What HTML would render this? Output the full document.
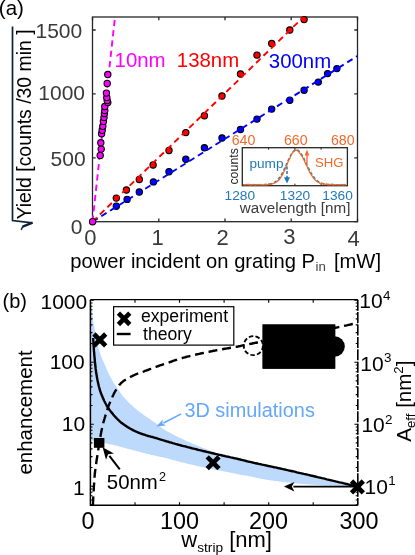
<!DOCTYPE html>
<html><head><meta charset="utf-8"><title>figure</title>
<style>html,body{margin:0;padding:0;background:#fff;}body{width:415px;height:555px;overflow:hidden;position:relative;font-family:"Liberation Sans",sans-serif;}svg text,svg tspan{font-family:"Liberation Sans",sans-serif;}</style>
</head><body>
<svg width="415" height="555" viewBox="0 0 415 555" style="position:absolute;left:0;top:0;will-change:transform">
<rect x="0" y="0" width="415" height="555" fill="#fff"/>
<g stroke="#262626" stroke-width="1.3" fill="none">
<rect x="92.5" y="17.0" width="265.0" height="204.7"/>
<path d="M92.5,221.7 v-3.2 M92.5,17.0 v3.2"/>
<path d="M158.8,221.7 v-3.2 M158.8,17.0 v3.2"/>
<path d="M225.0,221.7 v-3.2 M225.0,17.0 v3.2"/>
<path d="M291.2,221.7 v-3.2 M291.2,17.0 v3.2"/>
<path d="M357.5,221.7 v-3.2 M357.5,17.0 v3.2"/>
<path d="M92.5,221.7 h3.2 M357.5,221.7 h-3.2"/>
<path d="M92.5,157.8 h3.2 M357.5,157.8 h-3.2"/>
<path d="M92.5,93.9 h3.2 M357.5,93.9 h-3.2"/>
<path d="M92.5,30.0 h3.2 M357.5,30.0 h-3.2"/>
</g>
<path d="M92.5,221.7 L115,17" stroke="#ff00ff" fill="none" stroke-width="1.9" stroke-dasharray="6.2 4.16"/>
<g fill="#ff00ff" stroke="#000" stroke-width="1.1">
<circle cx="100.2" cy="155.4" r="3.15"/>
<circle cx="101.2" cy="149.1" r="3.15"/>
<circle cx="100.8" cy="142.8" r="3.15"/>
<circle cx="101.6" cy="133.7" r="3.15"/>
<circle cx="102.2" cy="130.3" r="3.15"/>
<circle cx="102.8" cy="126.3" r="3.15"/>
<circle cx="103.4" cy="121.4" r="3.15"/>
<circle cx="104.0" cy="117.4" r="3.15"/>
<circle cx="104.4" cy="113.5" r="3.15"/>
<circle cx="104.8" cy="110.5" r="3.15"/>
<circle cx="104.8" cy="106.5" r="3.15"/>
<circle cx="107.8" cy="102.6" r="3.15"/>
<circle cx="107.2" cy="100.6" r="3.15"/>
<circle cx="106.8" cy="97.6" r="3.15"/>
<circle cx="106.4" cy="93.1" r="3.15"/>
<circle cx="107.2" cy="83.4" r="3.15"/>
<circle cx="107.8" cy="74.5" r="3.15"/>
</g>
<g fill="#0000ff" stroke="#000" stroke-width="1.1">
<circle cx="116.3" cy="206.2" r="3.15"/>
<circle cx="127.1" cy="199.4" r="3.15"/>
<circle cx="139.3" cy="192.0" r="3.15"/>
<circle cx="153.4" cy="181.9" r="3.15"/>
<circle cx="169.0" cy="171.7" r="3.15"/>
<circle cx="185.8" cy="159.3" r="3.15"/>
<circle cx="204.4" cy="147.8" r="3.15"/>
<circle cx="222.0" cy="138.0" r="3.15"/>
<circle cx="240.5" cy="129.5" r="3.15"/>
<circle cx="257.0" cy="119.1" r="3.15"/>
<circle cx="271.7" cy="109.1" r="3.15"/>
<circle cx="289.8" cy="100.2" r="3.15"/>
<circle cx="304.1" cy="90.2" r="3.15"/>
<circle cx="318.3" cy="82.1" r="3.15"/>
<circle cx="327.6" cy="73.6" r="3.15"/>
<circle cx="336.9" cy="68.6" r="3.15"/>
</g>
<path d="M92.5,221.7 L357.5,56" stroke="#0000ff" fill="none" stroke-width="1.9" stroke-dasharray="6.2 4.16"/>
<g fill="#ff0000" stroke="#000" stroke-width="1.1">
<circle cx="116.3" cy="198.1" r="3.15"/>
<circle cx="126.4" cy="190.0" r="3.15"/>
<circle cx="139.3" cy="179.5" r="3.15"/>
<circle cx="153.1" cy="165.0" r="3.15"/>
<circle cx="169.0" cy="150.5" r="3.15"/>
<circle cx="185.8" cy="132.6" r="3.15"/>
<circle cx="204.4" cy="115.7" r="3.15"/>
<circle cx="222.0" cy="96.0" r="3.15"/>
<circle cx="240.5" cy="74.0" r="3.15"/>
<circle cx="257.0" cy="55.1" r="3.15"/>
<circle cx="271.7" cy="43.5" r="3.15"/>
<circle cx="289.8" cy="30.0" r="3.15"/>
<circle cx="304.1" cy="19.6" r="3.15"/>
</g>
<path d="M92.5,221.7 L303.5,17" stroke="#ff0000" fill="none" stroke-width="1.9" stroke-dasharray="6.2 4.16"/>
<circle cx="92.6" cy="221.7" r="3.15" fill="#ff00ff" stroke="#000" stroke-width="1.1"/>
<g font-size="20.4px">
<text x="114.6" y="67.1" fill="#ff00ff">10nm</text>
<text x="176.8" y="67.1" fill="#ff0000">138nm</text>
<text x="268.8" y="67.6" fill="#0000ff">300nm</text>
</g>
<g font-size="21px" fill="#3a3a3a">
<text x="82.2" y="38.2" text-anchor="end">1500</text>
<text x="85.0" y="100.1" text-anchor="end">1000</text>
<text x="85.6" y="166.2" text-anchor="end">500</text>
<text x="76.5" y="234.2" text-anchor="middle">0</text>
<text x="90.4" y="244.5" font-size="22px" text-anchor="middle">0</text>
<text x="157.6" y="244.5" font-size="22px" text-anchor="middle">1</text>
<text x="222.6" y="244.5" font-size="22px" text-anchor="middle">2</text>
<text x="289.4" y="244.1" font-size="22px" text-anchor="middle">3</text>
<text x="353.6" y="246.2" font-size="22px" text-anchor="middle">4</text>
</g>
<text x="-1.2" y="15" font-size="20.5px" fill="#000">(a)</text>
<text x="70.3" y="268.2" font-size="20.2px" fill="#000">power incident on grating P<tspan font-size="13.3px" dy="3.2" dx="0.6" fill="#444">in</tspan><tspan dy="-3.2" dx="2.4"> [mW]</tspan></text>
<text transform="translate(31,219.5) rotate(-90)" font-size="19.4px" fill="#000">Yield [counts /30 min ]</text>
<path d="M12.5,26.6 L12.5,220.5 L32.3,222.8" fill="none" stroke="#0c2238" stroke-width="1.7" stroke-linejoin="miter"/>
<path d="M32.6,222.7 L22.6,226.6" fill="none" stroke="#0c2238" stroke-width="2.4"/>
<path d="M22.8,226.3 L21.2,229.9" fill="none" stroke="#0c2238" stroke-width="1.4"/>
<rect x="242.3" y="147.7" width="105.1" height="38.0" fill="#fff" stroke="#262626" stroke-width="1.3"/>
<g stroke="#262626" stroke-width="1">
<path d="M268.6,147.7 v2 M268.6,185.7 v-2"/>
<path d="M294.9,147.7 v2 M294.9,185.7 v-2"/>
<path d="M321.1,147.7 v2 M321.1,185.7 v-2"/>
</g>
<path d="M243.1,184.7 L243.8,184.7 L244.5,184.7 L245.2,184.7 L245.9,184.7 L246.6,184.7 L247.3,184.7 L248.0,184.7 L248.7,184.7 L249.4,184.7 L250.1,184.7 L250.8,184.7 L251.5,184.7 L252.2,184.7 L252.9,184.7 L253.6,184.7 L254.3,184.7 L255.0,184.7 L255.7,184.7 L256.4,184.7 L257.1,184.7 L257.8,184.7 L258.5,184.7 L259.2,184.7 L259.9,184.7 L260.6,184.7 L261.3,184.7 L262.0,184.7 L262.7,184.6 L263.4,184.6 L264.1,184.6 L264.8,184.6 L265.5,184.5 L266.2,184.5 L266.9,184.4 L267.6,184.4 L268.3,184.3 L269.0,184.2 L269.7,184.0 L270.4,183.9 L271.1,183.7 L271.8,183.5 L272.5,183.2 L273.2,183.0 L273.9,182.6 L274.6,182.2 L275.3,181.8 L276.0,181.2 L276.7,180.6 L277.4,180.0 L278.1,179.2 L278.8,178.4 L279.5,177.5 L280.2,176.5 L280.9,175.4 L281.6,174.3 L282.3,173.0 L283.0,171.7 L283.7,170.3 L284.4,168.8 L285.1,167.3 L285.8,165.8 L286.5,164.2 L287.2,162.6 L287.9,161.1 L288.6,159.5 L289.3,158.0 L290.0,156.6 L290.7,155.3 L291.4,154.1 L292.1,153.0 L292.8,152.0 L293.5,151.2 L294.2,150.6 L294.9,150.1 L295.6,149.9 L296.3,149.8 L297.0,149.9 L297.7,150.2 L298.4,150.6 L299.1,151.2 L299.8,151.9 L300.5,152.8 L301.2,153.8 L301.9,154.9 L302.6,156.1 L303.3,157.4 L304.0,158.8 L304.7,160.2 L305.4,161.7 L306.1,163.1 L306.8,164.6 L307.5,166.0 L308.2,167.5 L308.9,168.9 L309.6,170.2 L310.3,171.5 L311.0,172.8 L311.7,173.9 L312.4,175.1 L313.1,176.1 L313.8,177.1 L314.5,177.9 L315.2,178.8 L315.9,179.5 L316.6,180.2 L317.3,180.8 L318.0,181.3 L318.7,181.8 L319.4,182.2 L320.1,182.6 L320.8,182.9 L321.5,183.2 L322.2,183.4 L322.9,183.6 L323.6,183.8 L324.3,184.0 L325.0,184.1 L325.7,184.2 L326.4,184.3 L327.1,184.4 L327.8,184.4 L328.5,184.5 L329.2,184.5 L329.9,184.6 L330.6,184.6 L331.3,184.6 L332.0,184.6 L332.7,184.6 L333.4,184.7 L334.1,184.7 L334.8,184.7 L335.5,184.7 L336.2,184.7 L336.9,184.7 L337.6,184.7 L338.3,184.7 L339.0,184.7 L339.7,184.7 L340.4,184.7 L341.1,184.7 L341.8,184.7 L342.5,184.7 L343.2,184.7 L343.9,184.7 L344.6,184.7 L345.3,184.7 L346.0,184.7" fill="none" stroke="#1f78b8" stroke-width="1.5" stroke-dasharray="3.2 2"/>
<path d="M243.1,184.5 L243.8,184.7 L244.5,184.6 L245.2,184.8 L245.9,184.8 L246.6,184.4 L247.3,184.4 L248.0,184.9 L248.7,184.5 L249.4,184.5 L250.1,185.0 L250.8,184.7 L251.5,184.9 L252.2,184.7 L252.9,184.8 L253.6,184.5 L254.3,184.8 L255.0,185.0 L255.7,184.7 L256.4,184.9 L257.1,184.8 L257.8,184.4 L258.5,184.9 L259.2,184.8 L259.9,184.6 L260.6,184.4 L261.3,184.9 L262.0,184.7 L262.7,184.8 L263.4,184.9 L264.1,184.8 L264.8,184.9 L265.5,184.6 L266.2,184.8 L266.9,184.5 L267.6,184.8 L268.3,184.7 L269.0,184.1 L269.7,184.1 L270.4,184.0 L271.1,184.5 L271.8,183.9 L272.5,183.9 L273.2,183.5 L273.9,183.3 L274.6,183.0 L275.3,182.6 L276.0,182.3 L276.7,181.8 L277.4,181.5 L278.1,180.7 L278.8,180.1 L279.5,179.3 L280.2,178.4 L280.9,177.2 L281.6,175.7 L282.3,175.0 L283.0,173.8 L283.7,172.3 L284.4,170.6 L285.1,169.2 L285.8,167.2 L286.5,166.0 L287.2,164.1 L287.9,162.2 L288.6,160.4 L289.3,159.4 L290.0,157.9 L290.7,155.8 L291.4,155.0 L292.1,153.5 L292.8,152.3 L293.5,151.5 L294.2,151.2 L294.9,150.8 L295.6,150.0 L296.3,150.4 L297.0,150.2 L297.7,151.0 L298.4,151.2 L299.1,152.3 L299.8,153.2 L300.5,153.8 L301.2,155.3 L301.9,156.0 L302.6,157.1 L303.3,158.9 L304.0,159.9 L304.7,161.5 L305.4,163.1 L306.1,164.8 L306.8,166.0 L307.5,167.3 L308.2,169.4 L308.9,170.4 L309.6,172.1 L310.3,173.4 L311.0,174.2 L311.7,175.4 L312.4,176.5 L313.1,177.5 L313.8,178.4 L314.5,179.2 L315.2,179.9 L315.9,180.8 L316.6,181.1 L317.3,181.6 L318.0,182.2 L318.7,182.3 L319.4,182.7 L320.1,183.5 L320.8,183.4 L321.5,183.6 L322.2,183.5 L322.9,183.9 L323.6,184.2 L324.3,183.9 L325.0,184.4 L325.7,184.5 L326.4,184.1 L327.1,184.6 L327.8,184.5 L328.5,184.7 L329.2,184.5 L329.9,184.8 L330.6,184.8 L331.3,184.3 L332.0,184.4 L332.7,184.8 L333.4,185.0 L334.1,184.5 L334.8,184.7 L335.5,184.8 L336.2,184.6 L336.9,184.6 L337.6,184.6 L338.3,184.6 L339.0,184.8 L339.7,184.6 L340.4,184.6 L341.1,184.9 L341.8,184.4 L342.5,184.7 L343.2,184.9 L343.9,184.6 L344.6,184.5 L345.3,184.9 L346.0,184.5" fill="none" stroke="#f26a2a" stroke-width="1.3"/>
<path d="M307,163.8 V153" stroke="#f26a2a" stroke-width="1.3" fill="none"/>
<path d="M307,149.4 l-2.3,6 h4.6z" fill="#f26a2a"/>
<path d="M287,166.5 V178" stroke="#1f78b8" stroke-width="1.5" fill="none" stroke-dasharray="3 1.6"/>
<path d="M287,183.4 l-3,-6.2 h6z" fill="#1f78b8"/>
<g font-size="13.7px">
<text x="243.5" font-size="14.2px" y="144.8" text-anchor="middle" fill="#f26a2a">640</text>
<text x="295.8" y="144.8" font-size="14.2px" text-anchor="middle" fill="#f26a2a">660</text>
<text x="342.8" y="144.8" font-size="14.2px" text-anchor="middle" fill="#f26a2a">680</text>
<text x="239.8" y="199.9" text-anchor="middle" fill="#1f78b8">1280</text>
<text x="295" y="199.9" text-anchor="middle" fill="#1f78b8">1320</text>
<text x="337.6" y="199.9" text-anchor="middle" fill="#1f78b8">1360</text>
</g>
<text x="249.5" y="167.8" fill="#1f78b8" font-size="13.6px">pump</text>
<text x="315" y="166.6" fill="#f26a2a" font-size="13.2px">SHG</text>
<text transform="translate(238.3,184.6) rotate(-90)" fill="#262626" font-size="12.4px">counts</text>
<text x="239.8" y="213.2" font-size="15.2px" fill="#3a3a3a">wavelength [nm]</text>
<path d="M90.4,299.7 L90.5,300.2 L90.6,300.8 L90.7,301.6 L90.9,302.4 L91.0,303.3 L91.2,304.3 L91.3,305.3 L91.5,306.3 L91.7,307.3 L91.8,308.3 L92.0,309.3 L92.1,310.2 L92.2,311.1 L92.3,312.0 L92.4,312.9 L92.5,313.9 L92.6,314.8 L92.7,315.7 L92.7,316.6 L92.8,317.5 L92.9,318.4 L93.0,319.3 L93.1,320.2 L93.2,321.0 L93.3,321.8 L93.4,322.6 L93.6,323.3 L93.7,324.0 L93.8,324.7 L94.0,325.4 L94.1,326.1 L94.2,326.8 L94.4,327.5 L94.5,328.2 L94.7,328.9 L94.8,329.7 L94.9,330.5 L95.1,331.3 L95.2,332.1 L95.3,332.9 L95.4,333.7 L95.6,334.6 L95.7,335.4 L95.8,336.2 L96.0,337.0 L96.1,337.8 L96.2,338.6 L96.4,339.4 L96.6,340.2 L96.7,340.9 L96.9,341.6 L97.0,342.4 L97.2,343.1 L97.4,343.8 L97.6,344.5 L97.8,345.2 L97.9,345.9 L98.1,346.6 L98.3,347.3 L98.5,348.0 L98.7,348.7 L98.9,349.3 L99.1,350.0 L99.3,350.7 L99.5,351.3 L99.7,352.0 L99.9,352.6 L100.1,353.3 L100.3,353.9 L100.5,354.5 L100.8,355.2 L101.0,355.8 L101.2,356.4 L101.5,357.0 L101.7,357.6 L101.9,358.1 L102.2,358.7 L102.4,359.3 L102.7,359.9 L102.9,360.5 L103.2,361.1 L103.5,361.8 L103.9,362.5 L104.2,363.3 L104.6,364.2 L105.0,365.1 L105.4,366.0 L105.8,367.0 L106.2,368.1 L106.6,369.1 L107.1,370.2 L107.6,371.3 L108.1,372.3 L108.6,373.4 L109.1,374.5 L109.6,375.5 L110.1,376.5 L110.7,377.5 L111.3,378.6 L111.9,379.6 L112.5,380.7 L113.1,381.7 L113.8,382.7 L114.4,383.7 L115.0,384.7 L115.7,385.7 L116.3,386.7 L116.9,387.6 L117.5,388.5 L118.1,389.4 L118.7,390.3 L119.2,391.1 L119.8,391.9 L120.4,392.7 L121.0,393.6 L121.6,394.3 L122.2,395.1 L122.8,395.9 L123.4,396.7 L124.1,397.5 L124.8,398.3 L125.5,399.1 L126.2,399.9 L127.0,400.6 L127.7,401.4 L128.5,402.2 L129.3,402.9 L130.0,403.7 L130.8,404.4 L131.6,405.1 L132.3,405.8 L133.1,406.5 L133.8,407.2 L134.6,407.8 L135.3,408.4 L136.1,409.1 L136.8,409.7 L137.6,410.3 L138.3,410.9 L139.1,411.4 L139.8,412.0 L140.6,412.6 L141.3,413.1 L142.1,413.7 L142.9,414.3 L143.6,414.8 L144.4,415.4 L145.2,415.9 L146.0,416.5 L146.7,417.0 L147.5,417.5 L148.3,418.0 L149.0,418.6 L149.7,419.0 L150.4,419.5 L151.1,420.0 L151.7,420.5 L152.4,420.9 L153.0,421.3 L153.6,421.7 L154.1,422.1 L154.7,422.5 L155.3,422.9 L155.8,423.2 L156.4,423.6 L156.9,424.0 L157.4,424.4 L158.0,424.8 L158.5,425.2 L159.0,425.6 L159.5,426.0 L159.9,426.4 L160.3,426.7 L160.8,427.1 L161.3,427.5 L161.8,427.9 L162.3,428.4 L163.0,428.8 L163.7,429.3 L164.5,429.8 L165.4,430.3 L166.4,430.9 L167.5,431.5 L168.7,432.2 L169.9,432.8 L171.2,433.5 L172.5,434.2 L173.8,434.8 L175.1,435.5 L176.4,436.2 L177.7,436.8 L178.9,437.4 L180.1,438.0 L181.3,438.6 L182.5,439.1 L183.7,439.7 L184.9,440.3 L186.2,440.8 L187.4,441.4 L188.6,441.9 L189.8,442.4 L191.0,443.0 L192.2,443.5 L193.4,444.0 L194.6,444.5 L195.8,445.0 L197.0,445.5 L198.2,446.0 L199.4,446.5 L200.6,446.9 L201.8,447.4 L203.0,447.9 L204.2,448.3 L205.4,448.8 L206.6,449.2 L207.8,449.7 L209.0,450.2 L210.2,450.6 L211.4,451.1 L212.6,451.6 L213.8,452.0 L215.0,452.5 L216.3,452.9 L217.5,453.4 L218.7,453.8 L219.9,454.2 L221.1,454.6 L222.3,455.0 L223.5,455.4 L224.7,455.7 L225.9,456.0 L227.1,456.4 L228.3,456.7 L229.6,457.0 L230.8,457.3 L232.0,457.5 L233.2,457.8 L234.4,458.1 L235.6,458.4 L236.8,458.7 L238.0,459.0 L239.2,459.3 L240.3,459.6 L241.4,459.9 L242.6,460.1 L243.7,460.4 L244.9,460.7 L246.1,461.0 L247.3,461.3 L248.5,461.6 L249.8,461.9 L251.2,462.2 L252.6,462.5 L254.1,462.9 L255.6,463.2 L257.2,463.5 L258.8,463.9 L260.5,464.2 L262.1,464.6 L263.7,464.9 L265.4,465.3 L266.9,465.6 L268.5,466.0 L270.0,466.3 L271.4,466.6 L272.8,466.9 L274.1,467.2 L275.3,467.4 L276.5,467.7 L277.8,468.0 L279.0,468.2 L280.3,468.5 L281.7,468.8 L283.2,469.2 L284.8,469.5 L286.5,469.9 L288.4,470.3 L290.3,470.8 L292.4,471.2 L294.6,471.7 L296.8,472.3 L299.1,472.8 L301.5,473.3 L303.8,473.9 L306.1,474.4 L308.5,474.9 L310.8,475.5 L313.0,476.0 L315.2,476.5 L317.5,477.1 L319.8,477.6 L322.1,478.2 L324.5,478.7 L326.8,479.3 L329.1,479.8 L331.3,480.3 L333.5,480.9 L335.6,481.4 L337.6,481.8 L339.5,482.3 L341.4,482.7 L343.2,483.2 L345.0,483.6 L346.8,484.0 L348.5,484.5 L350.2,484.8 L351.7,485.2 L353.1,485.6 L354.5,485.9 L355.6,486.2 L356.7,486.4 L357.5,486.6 L357.5,486.6 L356.6,486.6 L355.5,486.5 L354.2,486.5 L352.7,486.4 L351.0,486.4 L349.3,486.3 L347.6,486.3 L345.8,486.2 L344.1,486.2 L342.4,486.1 L340.9,486.0 L339.5,486.0 L338.2,486.0 L337.0,485.9 L335.9,485.9 L334.7,485.8 L333.7,485.8 L332.6,485.8 L331.6,485.7 L330.5,485.7 L329.5,485.6 L328.5,485.6 L327.4,485.6 L326.3,485.5 L325.2,485.4 L324.1,485.4 L323.0,485.3 L321.9,485.3 L320.8,485.2 L319.7,485.1 L318.5,485.1 L317.4,485.0 L316.3,484.9 L315.2,484.8 L314.1,484.8 L313.0,484.7 L311.9,484.6 L310.8,484.5 L309.7,484.5 L308.6,484.4 L307.5,484.3 L306.4,484.2 L305.3,484.2 L304.2,484.1 L303.1,484.0 L302.0,483.9 L300.9,483.8 L299.8,483.7 L298.7,483.6 L297.6,483.5 L296.5,483.4 L295.4,483.3 L294.3,483.2 L293.2,483.0 L292.0,482.9 L290.9,482.8 L289.8,482.7 L288.7,482.5 L287.6,482.4 L286.5,482.3 L285.4,482.2 L284.3,482.1 L283.2,481.9 L282.1,481.8 L281.0,481.7 L279.9,481.5 L278.8,481.4 L277.7,481.3 L276.6,481.1 L275.5,481.0 L274.4,480.9 L273.3,480.7 L272.2,480.5 L271.0,480.4 L269.9,480.2 L268.7,480.0 L267.5,479.9 L266.4,479.7 L265.2,479.5 L264.1,479.3 L263.0,479.1 L262.0,478.9 L261.0,478.8 L260.0,478.6 L259.1,478.4 L258.3,478.3 L257.6,478.1 L256.9,477.9 L256.3,477.8 L255.7,477.6 L255.0,477.5 L254.4,477.3 L253.7,477.1 L252.9,477.0 L252.1,476.8 L251.2,476.6 L250.2,476.4 L249.1,476.2 L248.0,476.0 L246.8,475.8 L245.6,475.6 L244.4,475.4 L243.1,475.1 L241.8,474.9 L240.5,474.7 L239.3,474.5 L238.0,474.2 L236.8,474.0 L235.6,473.8 L234.4,473.5 L233.2,473.3 L232.0,473.1 L230.8,472.8 L229.6,472.6 L228.3,472.3 L227.1,472.1 L225.9,471.8 L224.7,471.6 L223.5,471.3 L222.3,471.1 L221.1,470.9 L219.9,470.6 L218.7,470.4 L217.5,470.1 L216.3,469.9 L215.0,469.7 L213.8,469.4 L212.6,469.2 L211.4,468.9 L210.2,468.7 L209.0,468.4 L207.8,468.2 L206.6,467.9 L205.4,467.7 L204.2,467.4 L203.0,467.2 L201.8,466.9 L200.6,466.7 L199.4,466.4 L198.2,466.2 L197.0,465.9 L195.8,465.6 L194.6,465.4 L193.4,465.1 L192.2,464.8 L191.0,464.5 L189.8,464.3 L188.6,464.0 L187.4,463.7 L186.2,463.4 L184.9,463.1 L183.7,462.8 L182.5,462.5 L181.3,462.2 L180.1,461.9 L178.9,461.6 L177.7,461.3 L176.4,461.0 L175.2,460.6 L173.9,460.3 L172.6,459.9 L171.4,459.6 L170.1,459.3 L168.9,458.9 L167.7,458.6 L166.6,458.3 L165.5,458.1 L164.5,457.8 L163.6,457.6 L162.7,457.4 L161.9,457.2 L161.1,457.0 L160.4,456.9 L159.7,456.7 L159.0,456.6 L158.4,456.4 L157.7,456.3 L157.0,456.1 L156.3,456.0 L155.5,455.8 L154.7,455.6 L153.9,455.4 L153.1,455.3 L152.3,455.1 L151.5,454.9 L150.7,454.7 L149.9,454.5 L149.1,454.3 L148.2,454.1 L147.4,453.9 L146.6,453.7 L145.8,453.5 L145.0,453.3 L144.2,453.1 L143.4,452.9 L142.6,452.7 L141.8,452.5 L141.0,452.3 L140.2,452.1 L139.4,451.8 L138.6,451.6 L137.8,451.4 L137.0,451.2 L136.2,451.0 L135.4,450.8 L134.6,450.6 L133.8,450.4 L133.0,450.2 L132.2,450.0 L131.4,449.8 L130.6,449.6 L129.8,449.3 L129.0,449.1 L128.2,448.9 L127.4,448.7 L126.6,448.5 L125.8,448.3 L125.0,448.1 L124.2,447.8 L123.4,447.6 L122.7,447.4 L121.9,447.2 L121.1,446.9 L120.3,446.7 L119.5,446.5 L118.6,446.2 L117.8,446.0 L116.9,445.8 L116.0,445.6 L115.1,445.4 L114.2,445.2 L113.3,445.0 L112.4,444.8 L111.4,444.6 L110.5,444.4 L109.5,444.2 L108.5,444.0 L107.4,443.8 L106.4,443.5 L105.3,443.3 L104.1,443.0 L102.8,442.8 L101.5,442.5 L100.0,442.1 L98.6,441.8 L97.1,441.5 L95.7,441.2 L94.4,440.9 L93.2,440.6 L92.1,440.4 L91.1,440.2 L90.4,440.0Z" fill="#bddafc" stroke="none"/>
<path d="M92.9,505.3 L92.9,504.6 L93.0,503.6 L93.0,502.5 L93.1,501.3 L93.2,500.0 L93.2,498.6 L93.3,497.1 L93.4,495.6 L93.5,494.2 L93.5,492.7 L93.6,491.3 L93.7,490.0 L93.8,488.7 L93.8,487.5 L93.9,486.2 L94.0,485.0 L94.1,483.7 L94.1,482.5 L94.2,481.3 L94.3,480.0 L94.4,478.8 L94.5,477.5 L94.6,476.3 L94.7,475.0 L94.8,473.7 L95.0,472.5 L95.1,471.2 L95.3,469.9 L95.4,468.6 L95.6,467.3 L95.8,466.0 L96.0,464.8 L96.2,463.5 L96.3,462.2 L96.5,461.0 L96.7,459.7 L96.9,458.4 L97.1,457.2 L97.3,455.9 L97.5,454.6 L97.7,453.3 L97.9,452.0 L98.1,450.7 L98.3,449.5 L98.5,448.3 L98.7,447.1 L98.8,446.0 L99.0,445.0 L99.2,444.0 L99.3,443.1 L99.4,442.3 L99.6,441.4 L99.7,440.7 L99.8,439.9 L99.9,439.2 L100.1,438.5 L100.2,437.8 L100.3,437.0 L100.5,436.3 L100.6,435.5 L100.7,434.7 L100.9,433.9 L101.1,433.1 L101.2,432.2 L101.4,431.4 L101.5,430.6 L101.7,429.8 L101.9,429.0 L102.0,428.2 L102.2,427.4 L102.3,426.7 L102.5,426.0 L102.7,425.3 L102.8,424.7 L102.9,424.2 L103.1,423.6 L103.2,423.1 L103.3,422.6 L103.5,422.1 L103.6,421.6 L103.8,421.0 L104.0,420.4 L104.2,419.7 L104.4,419.0 L104.6,418.2 L104.9,417.3 L105.2,416.4 L105.5,415.4 L105.8,414.4 L106.1,413.4 L106.4,412.3 L106.7,411.3 L107.1,410.3 L107.4,409.3 L107.7,408.4 L108.0,407.5 L108.3,406.7 L108.6,405.9 L108.9,405.1 L109.2,404.3 L109.5,403.6 L109.8,402.9 L110.1,402.2 L110.4,401.5 L110.7,400.8 L111.0,400.1 L111.3,399.5 L111.6,398.8 L111.9,398.2 L112.2,397.5 L112.4,396.9 L112.7,396.4 L112.9,395.8 L113.2,395.2 L113.4,394.7 L113.7,394.1 L114.0,393.5 L114.3,392.9 L114.6,392.3 L115.0,391.7 L115.4,391.0 L115.8,390.3 L116.2,389.6 L116.7,388.9 L117.2,388.2 L117.7,387.4 L118.2,386.7 L118.7,386.0 L119.2,385.3 L119.7,384.6 L120.3,384.0 L120.8,383.4 L121.3,382.9 L121.9,382.4 L122.5,381.9 L123.0,381.4 L123.6,381.0 L124.2,380.6 L124.8,380.2 L125.4,379.8 L126.1,379.4 L126.7,379.1 L127.3,378.7 L128.0,378.3 L128.7,377.9 L129.3,377.5 L130.0,377.2 L130.7,376.8 L131.4,376.4 L132.2,376.1 L132.9,375.7 L133.6,375.4 L134.4,375.0 L135.2,374.7 L135.9,374.3 L136.7,374.0 L137.5,373.7 L138.3,373.4 L139.1,373.0 L139.9,372.7 L140.7,372.4 L141.6,372.2 L142.4,371.9 L143.3,371.6 L144.1,371.3 L145.0,370.9 L145.9,370.6 L146.8,370.3 L147.7,370.0 L148.7,369.6 L149.7,369.2 L150.7,368.9 L151.7,368.5 L152.7,368.1 L153.7,367.7 L154.7,367.4 L155.7,367.0 L156.6,366.6 L157.5,366.3 L158.4,366.0 L159.2,365.7 L160.0,365.4 L160.7,365.2 L161.4,365.0 L162.0,364.8 L162.7,364.5 L163.3,364.3 L164.0,364.1 L164.7,363.9 L165.4,363.6 L166.2,363.4 L167.0,363.1 L167.9,362.8 L168.8,362.5 L169.7,362.2 L170.6,361.8 L171.6,361.5 L172.6,361.1 L173.6,360.7 L174.6,360.4 L175.7,360.0 L176.7,359.7 L177.8,359.3 L178.9,359.0 L180.0,358.7 L181.2,358.3 L182.3,358.0 L183.5,357.7 L184.8,357.4 L186.0,357.0 L187.2,356.7 L188.5,356.4 L189.7,356.1 L191.0,355.8 L192.2,355.5 L193.4,355.2 L194.6,354.9 L195.8,354.6 L197.0,354.3 L198.2,354.1 L199.4,353.8 L200.6,353.5 L201.8,353.3 L203.0,353.0 L204.2,352.8 L205.4,352.5 L206.6,352.3 L207.8,352.0 L209.0,351.8 L210.2,351.5 L211.4,351.3 L212.6,351.0 L213.8,350.8 L215.0,350.6 L216.3,350.3 L217.5,350.1 L218.7,349.9 L219.9,349.6 L221.1,349.4 L222.3,349.2 L223.5,349.0 L224.7,348.8 L225.9,348.6 L227.1,348.4 L228.3,348.2 L229.6,348.0 L230.8,347.8 L232.0,347.6 L233.2,347.4 L234.4,347.1 L235.6,346.9 L236.8,346.7 L238.0,346.5 L239.2,346.2 L240.5,346.0 L241.7,345.7 L242.9,345.4 L244.2,345.2 L245.4,344.9 L246.6,344.7 L247.8,344.4 L249.0,344.2 L250.1,343.9 L251.2,343.7 L252.2,343.5 L253.0,343.3 L253.7,343.2 L254.3,343.1 L254.9,342.9 L255.6,342.8 L256.3,342.7 L257.1,342.5 L258.2,342.3 L259.4,342.1 L260.9,341.8 L262.8,341.4 L265.0,341.0 L267.5,340.5 L270.3,339.9 L273.4,339.4 L276.6,338.8 L279.9,338.1 L283.3,337.5 L286.8,336.8 L290.2,336.1 L293.6,335.5 L296.9,334.9 L300.0,334.3 L303.0,333.7 L306.1,333.2 L309.2,332.6 L312.3,332.0 L315.4,331.5 L318.5,330.9 L321.5,330.4 L324.5,329.8 L327.3,329.3 L330.1,328.8 L332.7,328.3 L335.2,327.8 L337.6,327.3 L340.0,326.8 L342.3,326.3 L344.5,325.8 L346.7,325.4 L348.7,324.9 L350.6,324.5 L352.4,324.0 L354.0,323.7 L355.5,323.3 L356.7,323.0 L357.8,322.8" fill="none" stroke="#000" stroke-width="2.4" stroke-dasharray="9 4.8"/>
<path d="M93.2,338.0 L93.2,338.4 L93.2,339.0 L93.3,339.6 L93.3,340.3 L93.4,341.0 L93.4,341.8 L93.4,342.7 L93.5,343.5 L93.5,344.4 L93.6,345.3 L93.6,346.2 L93.7,347.0 L93.8,347.8 L93.8,348.7 L93.9,349.5 L93.9,350.4 L94.0,351.3 L94.1,352.2 L94.2,353.1 L94.2,354.0 L94.3,355.0 L94.4,356.0 L94.5,357.0 L94.6,358.0 L94.7,359.1 L94.8,360.2 L94.9,361.3 L95.0,362.4 L95.1,363.6 L95.2,364.8 L95.4,366.0 L95.5,367.2 L95.6,368.4 L95.8,369.6 L95.9,370.8 L96.1,372.0 L96.3,373.2 L96.5,374.4 L96.7,375.7 L96.9,376.9 L97.1,378.2 L97.4,379.4 L97.6,380.7 L97.9,381.9 L98.1,383.1 L98.4,384.3 L98.6,385.4 L98.9,386.5 L99.2,387.5 L99.5,388.5 L99.7,389.5 L100.0,390.4 L100.3,391.3 L100.6,392.2 L100.9,393.1 L101.3,394.0 L101.6,394.8 L101.9,395.6 L102.3,396.5 L102.6,397.3 L103.0,398.1 L103.3,398.9 L103.7,399.7 L104.0,400.5 L104.4,401.3 L104.8,402.0 L105.2,402.8 L105.6,403.5 L106.0,404.3 L106.4,405.0 L106.8,405.8 L107.3,406.5 L107.8,407.2 L108.3,408.0 L108.8,408.7 L109.3,409.5 L109.8,410.2 L110.4,411.0 L111.0,411.7 L111.5,412.4 L112.1,413.1 L112.7,413.8 L113.2,414.5 L113.8,415.2 L114.4,415.9 L114.9,416.5 L115.5,417.1 L116.1,417.8 L116.7,418.4 L117.3,419.0 L117.9,419.6 L118.5,420.2 L119.1,420.7 L119.7,421.3 L120.3,421.9 L121.0,422.4 L121.7,422.9 L122.4,423.5 L123.1,424.0 L123.8,424.5 L124.5,425.0 L125.3,425.5 L126.0,426.0 L126.7,426.5 L127.5,427.0 L128.2,427.4 L129.0,427.9 L129.7,428.3 L130.4,428.7 L131.2,429.1 L131.9,429.5 L132.6,429.9 L133.3,430.3 L134.1,430.6 L134.8,431.0 L135.5,431.3 L136.2,431.7 L137.0,432.0 L137.7,432.3 L138.4,432.6 L139.1,432.9 L139.8,433.2 L140.6,433.5 L141.3,433.7 L142.0,434.0 L142.7,434.2 L143.5,434.5 L144.2,434.7 L144.9,434.9 L145.6,435.2 L146.3,435.4 L147.0,435.6 L147.7,435.8 L148.4,436.0 L149.0,436.2 L149.7,436.4 L150.3,436.5 L150.9,436.7 L151.6,436.9 L152.2,437.0 L152.9,437.2 L153.6,437.4 L154.3,437.6 L155.0,437.8 L155.7,438.0 L156.4,438.2 L157.2,438.4 L157.9,438.7 L158.6,438.9 L159.3,439.1 L160.1,439.4 L160.9,439.6 L161.7,439.9 L162.6,440.1 L163.5,440.4 L164.5,440.7 L165.5,441.0 L166.6,441.3 L167.8,441.6 L168.9,442.0 L170.1,442.3 L171.4,442.7 L172.6,443.1 L173.9,443.4 L175.2,443.8 L176.4,444.1 L177.7,444.5 L178.9,444.8 L180.1,445.1 L181.3,445.5 L182.5,445.8 L183.7,446.1 L184.9,446.4 L186.2,446.7 L187.4,447.1 L188.6,447.4 L189.8,447.7 L191.0,448.0 L192.2,448.3 L193.4,448.6 L194.6,448.9 L195.8,449.2 L197.0,449.5 L198.2,449.8 L199.4,450.1 L200.6,450.4 L201.8,450.7 L203.0,451.0 L204.2,451.2 L205.4,451.5 L206.6,451.8 L207.8,452.1 L209.0,452.4 L210.2,452.7 L211.4,453.0 L212.6,453.2 L213.8,453.5 L215.0,453.8 L216.3,454.1 L217.5,454.4 L218.7,454.7 L219.9,454.9 L221.1,455.2 L222.3,455.5 L223.5,455.8 L224.7,456.0 L225.9,456.3 L227.1,456.6 L228.3,456.8 L229.6,457.1 L230.8,457.4 L232.0,457.6 L233.2,457.9 L234.4,458.2 L235.6,458.4 L236.8,458.7 L238.0,459.0 L239.2,459.3 L240.3,459.5 L241.4,459.8 L242.6,460.1 L243.7,460.4 L244.9,460.7 L246.1,461.0 L247.3,461.3 L248.5,461.6 L249.8,461.9 L251.2,462.2 L252.6,462.5 L254.1,462.9 L255.6,463.2 L257.2,463.5 L258.8,463.9 L260.5,464.2 L262.1,464.6 L263.7,464.9 L265.4,465.3 L266.9,465.6 L268.5,466.0 L270.0,466.3 L271.4,466.6 L272.8,466.9 L274.1,467.2 L275.3,467.4 L276.5,467.7 L277.8,468.0 L279.0,468.2 L280.3,468.5 L281.7,468.8 L283.2,469.2 L284.8,469.5 L286.5,469.9 L288.4,470.3 L290.3,470.8 L292.4,471.2 L294.6,471.7 L296.8,472.3 L299.1,472.8 L301.5,473.3 L303.8,473.9 L306.1,474.4 L308.5,474.9 L310.8,475.5 L313.0,476.0 L315.2,476.5 L317.5,477.1 L319.8,477.6 L322.1,478.2 L324.5,478.7 L326.8,479.3 L329.1,479.8 L331.3,480.3 L333.5,480.9 L335.6,481.4 L337.6,481.8 L339.5,482.3 L341.4,482.7 L343.2,483.2 L345.0,483.6 L346.8,484.0 L348.5,484.5 L350.2,484.8 L351.7,485.2 L353.1,485.6 L354.5,485.9 L355.6,486.2 L356.7,486.4 L357.5,486.6" fill="none" stroke="#000" stroke-width="2.4"/>
<g stroke="#000" fill="none">
<path d="M90.4,299.7 V505.3 H357.8" stroke-width="1.5"/>
<path d="M90.4,299.7 H357.8" stroke-width="1.2"/>
<path d="M357.8,299.7 V505.3" stroke-width="1.6" stroke-dasharray="11 1.4"/>
<path d="M135.0,505.3 v-3 M135.0,299.7 v3" stroke-width="1.1"/>
<path d="M179.5,505.3 v-3 M179.5,299.7 v3" stroke-width="1.1"/>
<path d="M224.1,505.3 v-3 M224.1,299.7 v3" stroke-width="1.1"/>
<path d="M268.7,505.3 v-3 M268.7,299.7 v3" stroke-width="1.1"/>
<path d="M313.2,505.3 v-3 M313.2,299.7 v3" stroke-width="1.1"/>
<path d="M90.4,504.9 h2.1 M357.8,504.9 h-2.1" stroke-width="1.1"/>
<path d="M90.4,500.0 h2.1 M357.8,500.0 h-2.1" stroke-width="1.1"/>
<path d="M90.4,495.8 h2.1 M357.8,495.8 h-2.1" stroke-width="1.1"/>
<path d="M90.4,492.2 h2.1 M357.8,492.2 h-2.1" stroke-width="1.1"/>
<path d="M90.4,489.0 h2.1 M357.8,489.0 h-2.1" stroke-width="1.1"/>
<path d="M90.4,486.2 h3.4 M357.8,486.2 h-3.4" stroke-width="1.1"/>
<path d="M90.4,467.5 h2.1 M357.8,467.5 h-2.1" stroke-width="1.1"/>
<path d="M90.4,456.6 h2.1 M357.8,456.6 h-2.1" stroke-width="1.1"/>
<path d="M90.4,448.9 h2.1 M357.8,448.9 h-2.1" stroke-width="1.1"/>
<path d="M90.4,442.9 h2.1 M357.8,442.9 h-2.1" stroke-width="1.1"/>
<path d="M90.4,438.0 h2.1 M357.8,438.0 h-2.1" stroke-width="1.1"/>
<path d="M90.4,433.8 h2.1 M357.8,433.8 h-2.1" stroke-width="1.1"/>
<path d="M90.4,430.2 h2.1 M357.8,430.2 h-2.1" stroke-width="1.1"/>
<path d="M90.4,427.0 h2.1 M357.8,427.0 h-2.1" stroke-width="1.1"/>
<path d="M90.4,424.2 h3.4 M357.8,424.2 h-3.4" stroke-width="1.1"/>
<path d="M90.4,405.5 h2.1 M357.8,405.5 h-2.1" stroke-width="1.1"/>
<path d="M90.4,394.6 h2.1 M357.8,394.6 h-2.1" stroke-width="1.1"/>
<path d="M90.4,386.9 h2.1 M357.8,386.9 h-2.1" stroke-width="1.1"/>
<path d="M90.4,380.9 h2.1 M357.8,380.9 h-2.1" stroke-width="1.1"/>
<path d="M90.4,376.0 h2.1 M357.8,376.0 h-2.1" stroke-width="1.1"/>
<path d="M90.4,371.8 h2.1 M357.8,371.8 h-2.1" stroke-width="1.1"/>
<path d="M90.4,368.2 h2.1 M357.8,368.2 h-2.1" stroke-width="1.1"/>
<path d="M90.4,365.0 h2.1 M357.8,365.0 h-2.1" stroke-width="1.1"/>
<path d="M90.4,362.2 h3.4 M357.8,362.2 h-3.4" stroke-width="1.1"/>
<path d="M90.4,343.5 h2.1 M357.8,343.5 h-2.1" stroke-width="1.1"/>
<path d="M90.4,332.6 h2.1 M357.8,332.6 h-2.1" stroke-width="1.1"/>
<path d="M90.4,324.9 h2.1 M357.8,324.9 h-2.1" stroke-width="1.1"/>
<path d="M90.4,318.9 h2.1 M357.8,318.9 h-2.1" stroke-width="1.1"/>
<path d="M90.4,314.0 h2.1 M357.8,314.0 h-2.1" stroke-width="1.1"/>
<path d="M90.4,309.8 h2.1 M357.8,309.8 h-2.1" stroke-width="1.1"/>
<path d="M90.4,306.2 h2.1 M357.8,306.2 h-2.1" stroke-width="1.1"/>
<path d="M90.4,303.0 h2.1 M357.8,303.0 h-2.1" stroke-width="1.1"/>
<path d="M90.4,300.2 h3.4 M357.8,300.2 h-3.4" stroke-width="1.1"/>
</g>
<path d="M93.9,334.0 L105.7,345.8 M93.9,345.8 L105.7,334.0" stroke="#000" stroke-width="4.7" fill="none"/>
<path d="M207.2,456.9 L219.0,468.7 M207.2,468.7 L219.0,456.9" stroke="#000" stroke-width="4.7" fill="none"/>
<path d="M351.5,481.0 L363.3,492.8 M351.5,492.8 L363.3,481.0" stroke="#000" stroke-width="4.7" fill="none"/>
<rect x="93.9" y="438" width="10.5" height="9.8" fill="#000"/>
<path d="M119.8,469.3 L109.4,455.9" stroke="#000" stroke-width="2.0" fill="none"/>
<path d="M102.6,447.2 L113.9,453.6 L108.1,454.3 L106.0,459.7Z" fill="#000"/>
<path d="M357.0,486.6 L293.4,486.6" stroke="#000" stroke-width="1.7" fill="none"/>
<path d="M283.9,486.6 L294.4,481.9 L291.8,486.6 L294.4,491.4Z" fill="#000"/>
<path d="M181.2,413.9 L163.5,423.0" stroke="#64a7fb" stroke-width="1.6" fill="none"/>
<path d="M156.4,426.6 L162.8,419.4 L162.4,423.5 L166.0,425.6Z" fill="#64a7fb"/>
<text x="184.4" y="417.2" font-size="19.9px" fill="#64a7fb">3D simulations</text>
<text x="106.8" y="489.2" font-size="20.4px" fill="#000">50nm<tspan font-size="12.6px" dy="-8" dx="1.3">2</tspan></text>
<rect x="262.6" y="324.5" width="72.6" height="44.2" fill="#000"/>
<circle cx="334.5" cy="346.5" r="10.3" fill="#000"/>
<ellipse cx="253.3" cy="345.7" rx="9.6" ry="9.5" fill="none" stroke="#000" stroke-width="1.8" stroke-dasharray="4.5 2.2"/>
<rect x="262.6" y="324.5" width="72.6" height="44.2" fill="#000"/>
<rect x="113.6" y="306.7" width="120.2" height="38.4" fill="#fff" stroke="#000" stroke-width="1.2"/>
<path d="M118.4,313.1 L129.8,324.5 M118.4,324.5 L129.8,313.1" stroke="#000" stroke-width="4.6" fill="none"/>
<path d="M116.8,334 H130.6" stroke="#000" stroke-width="2.4"/>
<text x="141" y="322.4" font-size="17.6px" fill="#000">experiment</text>
<text x="143" y="340.1" font-size="17.6px" fill="#000">theory</text>
<g font-size="21px" fill="#000">
<text x="87.2" y="308.6" text-anchor="end">1000</text>
<text x="84.7" y="368.8" text-anchor="end">100</text>
<text x="85.2" y="431.0" text-anchor="end">10</text>
<text x="84.7" y="494.6" text-anchor="end">1</text>
<text x="88.0" y="528.7" font-size="23.4px" text-anchor="middle">0</text>
<text x="179.4" y="528.7" font-size="23.4px" text-anchor="middle">100</text>
<text x="268.4" y="528.7" font-size="23.4px" text-anchor="middle">200</text>
<text x="359.0" y="528.7" font-size="23.4px" text-anchor="middle">300</text>
<text x="359.3" y="308.4" font-size="21px">10<tspan font-size="13.4px" dy="-8.6" dx="0.3">4</tspan></text>
<text x="360.3" y="370.8" font-size="21px">10<tspan font-size="13.4px" dy="-8.6" dx="0.3">3</tspan></text>
<text x="361.4" y="432.3" font-size="21px">10<tspan font-size="13.4px" dy="-8.6" dx="0.3">2</tspan></text>
<text x="364.6" y="493.9" font-size="21px">10<tspan font-size="13.4px" dy="-8.6" dx="0.3">1</tspan></text>
</g>
<text x="2.5" y="307.5" font-size="20px" fill="#000">(b)</text>
<text transform="translate(32.4,474.6) rotate(-90)" font-size="20.5px" fill="#000">enhancement</text>
<text x="181.3" y="546.5" font-size="22px" fill="#000">w<tspan font-size="13.7px" dy="5.5">strip</tspan><tspan dy="-5.5"> [nm]</tspan></text>
<text transform="translate(410.8,441.8) rotate(-90)" font-size="20.5px" fill="#000">A<tspan font-size="13.3px" dy="4.2">eff</tspan><tspan dy="-4.2"> [nm</tspan><tspan font-size="13.3px" dy="-7.8">2</tspan><tspan dy="7.8">]</tspan></text>
</svg>
</body></html>
